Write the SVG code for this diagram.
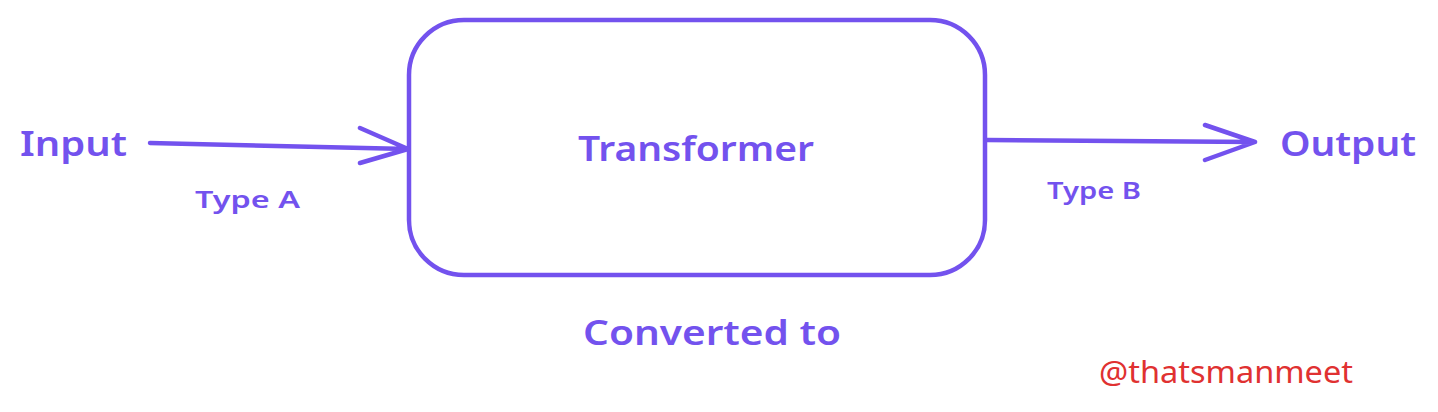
<svg xmlns="http://www.w3.org/2000/svg" width="1438" height="412" viewBox="0 0 1438 412">
<style>
.hand{font-family:"Noto Sans","Liberation Sans",sans-serif;fill:#7352ee;font-weight:600}
.ln{stroke:#7352ee;stroke-width:4.5;fill:none;stroke-linecap:round;stroke-linejoin:round}
.sig{font-family:"Noto Sans","Liberation Sans",sans-serif;fill:#e03131;font-size:30px}
</style>
<rect width="1438" height="412" fill="#ffffff"/>
<g id="input"><text class="hand" x="20" y="156" font-size="34" textLength="107" lengthAdjust="spacingAndGlyphs">Input</text></g>
<g id="transformer">
<rect class="ln" x="409" y="20" width="576" height="255" rx="55" ry="55"/>
<text class="hand" x="578" y="161" font-size="34" textLength="236" lengthAdjust="spacingAndGlyphs">Transformer</text>
</g>
<g id="output"><text class="hand" x="1280" y="156" font-size="34" textLength="136" lengthAdjust="spacingAndGlyphs">Output</text></g>
<g id="connectors">
<path class="ln" d="M150 143 L408 149 M360 128 L408 149 L360 163"/>
<path class="ln" d="M987 140 L1255 142 M1205 125 L1255 142 L1205 160"/>
</g>
<g id="labels">
<text class="hand" x="195" y="208" font-size="24" font-weight="500" textLength="105" lengthAdjust="spacingAndGlyphs">Type A</text>
<text class="hand" x="1047" y="199" font-size="24" font-weight="500" textLength="94" lengthAdjust="spacingAndGlyphs">Type B</text>
<text class="hand" x="583" y="345" font-size="34" textLength="258" lengthAdjust="spacingAndGlyphs">Converted to</text>
<text class="sig" x="1099" y="383" textLength="254" lengthAdjust="spacingAndGlyphs">@thatsmanmeet</text>
</g>
</svg>
